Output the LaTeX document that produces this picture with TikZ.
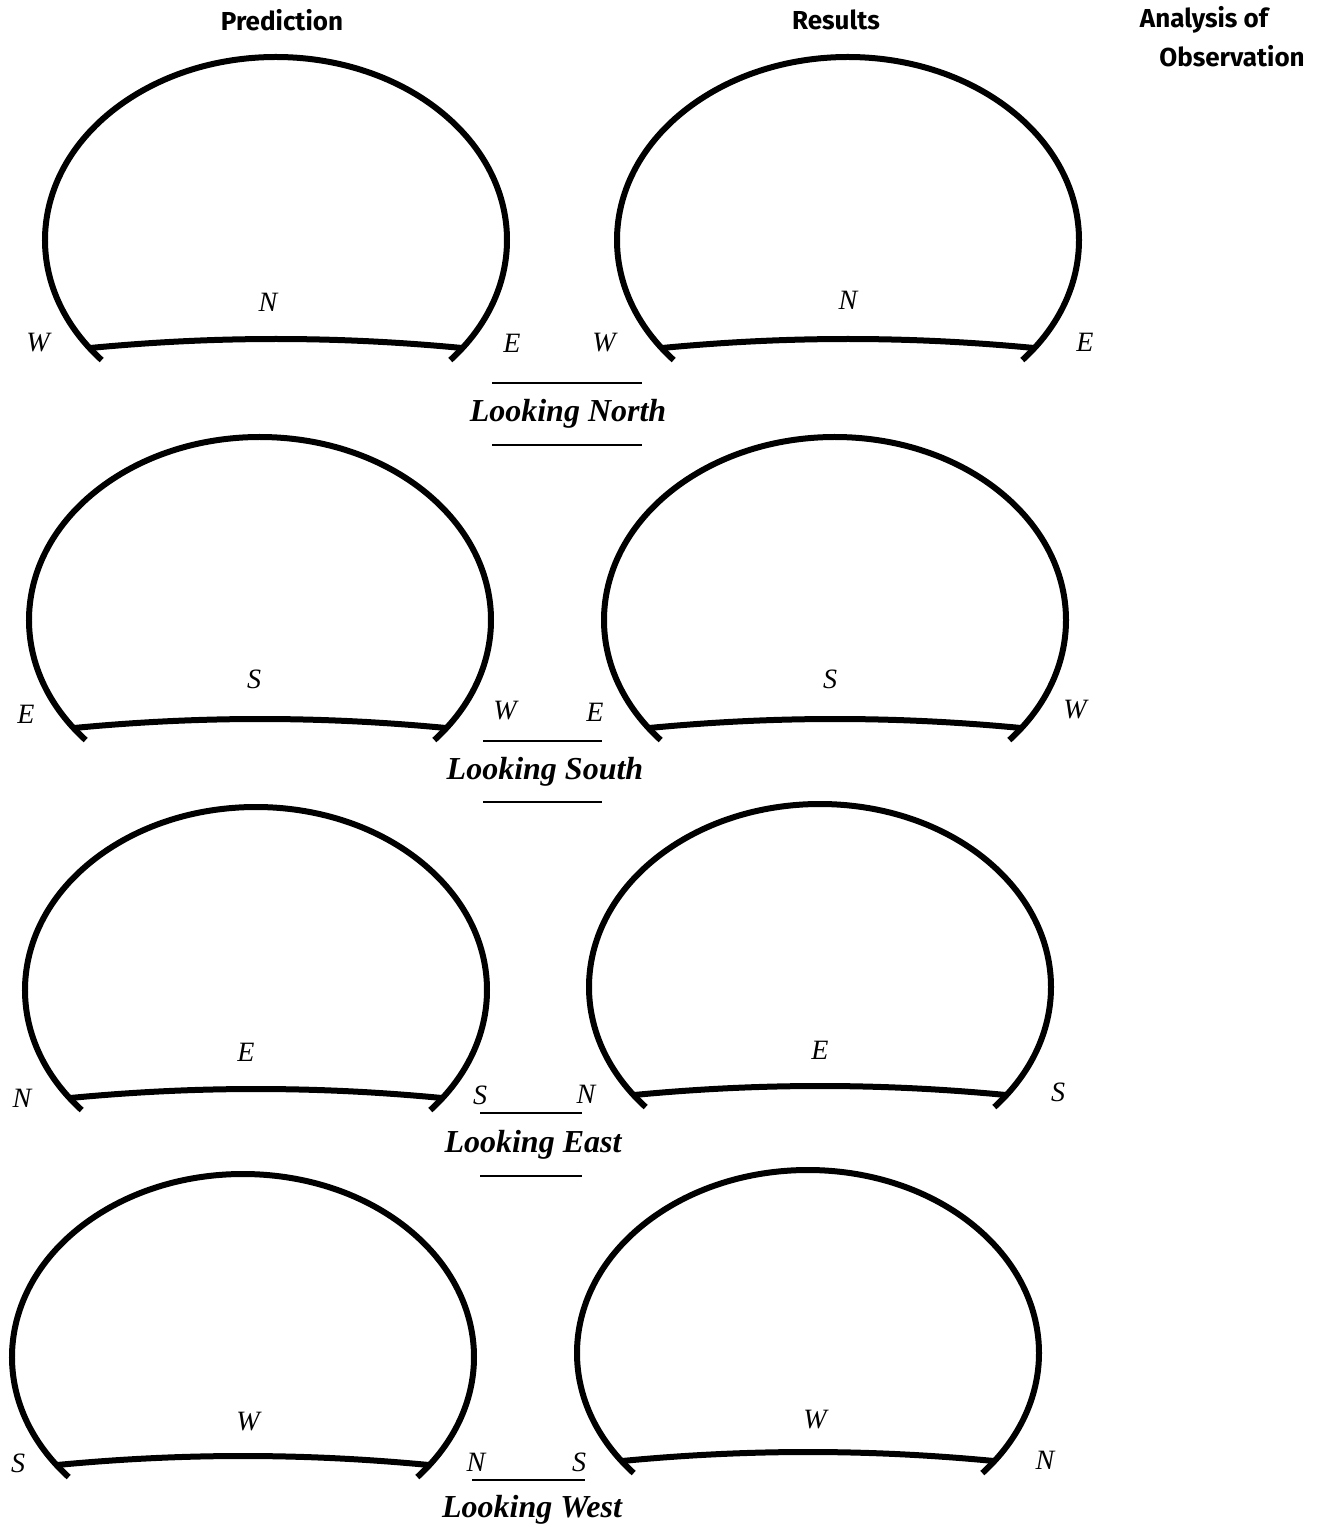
\documentclass[tikz,border=0pt]{standalone}
\usepackage{fontspec}
\setmainfont{Liberation Serif}
\newfontfamily\headfont{Fira Sans}
\usetikzlibrary{positioning}
\tikzset{
  domeline/.style={line width=3pt},
  horizonline/.style={line width=3pt},
  underrule/.style={line width=0.8pt},
  compass/.style={font=\fontsize{14}{16}\selectfont\itshape},
  viewcaption/.style={font=\fontsize{16}{19}\selectfont\bfseries\itshape},
  colhead/.style={font=\headfont\bfseries\fontsize{13}{15}\selectfont},
  skydome/.pic={
    \draw[domeline] (139:231 and 183) arc[start angle=139, end angle=401, x radius=231, y radius=183];
    \draw[horizonline] (-186,108) .. controls (-60,96) and (60,96) .. (186,108);
  }
}

\begin{document}
\begin{tikzpicture}[x=0.5pt, y=-0.5pt]
\useasboundingbox (0,0) rectangle (1325,1529);
% column headings
\node[colhead] (pred) at (282,20) {Prediction};
\node[colhead] (res) at (836,20) {Results};
\node[colhead] (anal) at (1204,20) {Analysis of};
\node[colhead] (obs) at (1232,56) {Observation};

% domes, prediction column
\pic at (276,240) {skydome};
\pic at (260,620) {skydome};
\pic at (256,990) {skydome};
\pic at (243,1357) {skydome};
% domes, results column
\pic at (848,240) {skydome};
\pic at (835,620) {skydome};
\pic at (820,987) {skydome};
\pic at (808,1353) {skydome};

% looking north
\node[compass] (pn) at (268,302) {N};
\node[compass] (pnw) at (38,343) {W};
\node[compass] (pne) at (512,343) {E};
\node[compass] (rn) at (848,300) {N};
\node[compass] (rnw) at (604,343) {W};
\node[compass] (rne) at (1085,342) {E};
\node[viewcaption] (north) at (568,414) {Looking North};
\draw[underrule] (492,383) -- (642,383);
\draw[underrule] (492,445) -- (642,445);

% looking south
\node[compass] (ps) at (254,679) {S};
\node[compass] (pse) at (26,714) {E};
\node[compass] (psw) at (505,711) {W};
\node[compass] (rs) at (830,679) {S};
\node[compass] (rse) at (595,712) {E};
\node[compass] (rsw) at (1075,710) {W};
\node[viewcaption] (south) at (545,772) {Looking South};
\draw[underrule] (483,741) -- (602,741);
\draw[underrule] (483,802) -- (602,802);

% looking east
\node[compass] (pe) at (246,1052) {E};
\node[compass] (pen) at (22,1098) {N};
\node[compass] (pes) at (480,1095) {S};
\node[compass] (re) at (820,1050) {E};
\node[compass] (ren) at (586,1094) {N};
\node[compass] (res2) at (1058,1092) {S};
\node[viewcaption] (east) at (533,1145) {Looking East};
\draw[underrule] (480,1113) -- (582,1113);
\draw[underrule] (480,1176) -- (582,1176);

% looking west
\node[compass] (pw) at (248,1422) {W};
\node[compass] (pws) at (18,1463) {S};
\node[compass] (pwn) at (476,1462) {N};
\node[compass] (rw) at (815,1420) {W};
\node[compass] (rws) at (579,1462) {S};
\node[compass] (rwn) at (1045,1460) {N};
\node[viewcaption] (west) at (532,1510) {Looking West};
\draw[underrule] (472,1480) -- (585,1480);
\end{tikzpicture}
\end{document}
